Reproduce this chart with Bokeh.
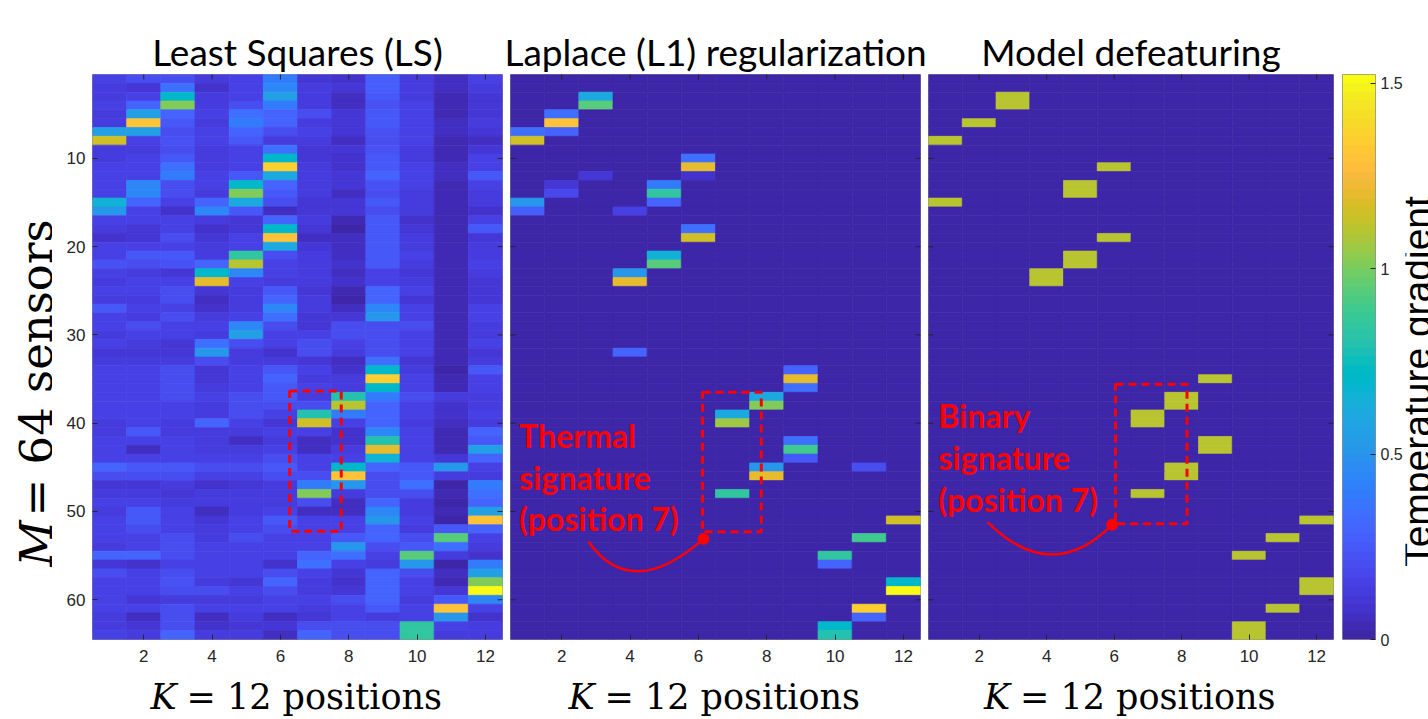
import numpy as np
from bokeh.plotting import figure
from bokeh.models import (Range1d, LinearColorMapper, FixedTicker, Label, ColumnDataSource,
                          CustomJSTickFormatter)
from bokeh.layouts import row, column
from bokeh.embed import file_html
from bokeh.resources import INLINE
from bokeh.transform import transform
from bokeh.core.properties import value

# ---------------- data ----------------
positions = list(range(1, 13))      # K = 12 positions (columns)
sensors = list(range(1, 65))        # M = 64 sensors (rows)
x_ticks = [2, 4, 6, 8, 10, 12]
y_ticks = [10, 20, 30, 40, 50, 60]
cbar_ticks = [0, 0.5, 1, 1.5]
cbar_max = 1.523

titles = ["Least Squares (LS)", "Laplace (L1) regularization", "Model defeaturing"]
xlabel_var, xlabel_rest = "K", "= 12 positions"
ylabel_var, ylabel_rest = "M", "= 64 sensors"
cbar_label = "Temperature gradient"
notes_l1 = ["Thermal", "signature", "(position 7)"]
notes_md = ["Binary", "signature", "(position 7)"]

# Least squares estimate, rows = sensors 1..64, columns = positions 1..12
ls_grid = [
    [.15, .20, .20, .12, .15, .40, .10, .08, .28, .12, .05, .15],
    [.12, .10, .35, .08, .15, .45, .12, .10, .28, .12, .05, .12],
    [.12, .15, .70, .12, .15, .55, .12, .06, .25, .12, .04, .10],
    [.15, .30, 1.0, .12, .20, .40, .12, .06, .22, .15, .04, .10],
    [.12, .55, .30, .15, .35, .30, .20, .10, .25, .15, .04, .10],
    [.12, 1.30, .25, .12, .40, .30, .12, .10, .25, .15, .05, .12],
    [.55, .55, .20, .15, .30, .20, .15, .10, .22, .15, .05, .10],
    [1.15, .15, .22, .15, .25, .12, .12, .06, .20, .15, .04, .05],
    [.13, .12, .20, .12, .15, .35, .10, .10, .22, .12, .04, .10],
    [.13, .15, .25, .12, .15, .70, .10, .08, .25, .12, .04, .15],
    [.15, .15, .35, .12, .15, 1.35, .12, .08, .25, .15, .05, .15],
    [.15, .15, .40, .15, .25, .60, .12, .10, .30, .15, .05, .25],
    [.15, .45, .20, .15, .70, .30, .12, .10, .22, .15, .04, .15],
    [.15, .45, .20, .12, 1.0, .25, .12, .06, .20, .12, .04, .12],
    [.65, .30, .15, .30, .60, .20, .10, .10, .25, .12, .04, .12],
    [.50, .15, .08, .45, .25, .05, .10, .10, .20, .12, .04, .08],
    [.15, .15, .15, .12, .10, .30, .12, .03, .25, .08, .04, .15],
    [.12, .10, .15, .08, .10, .70, .10, .02, .25, .10, .04, .25],
    [.08, .10, .20, .10, .15, 1.30, .06, .05, .25, .12, .04, .10],
    [.15, .15, .15, .12, .15, .60, .10, .05, .25, .12, .04, .12],
    [.15, .25, .25, .12, .85, .20, .12, .05, .25, .15, .04, .12],
    [.22, .20, .22, .30, 1.10, .15, .12, .08, .25, .12, .04, .15],
    [.15, .12, .10, .70, .45, .15, .12, .06, .15, .10, .04, .12],
    [.12, .15, .15, 1.20, .15, .12, .12, .08, .15, .12, .04, .10],
    [.15, .15, .20, .10, .12, .25, .10, .03, .30, .15, .04, .10],
    [.12, .12, .20, .06, .12, .30, .12, .02, .30, .10, .04, .10],
    [.25, .15, .15, .08, .12, .45, .12, .06, .45, .15, .04, .15],
    [.15, .12, .20, .12, .15, .35, .10, .10, .50, .15, .04, .15],
    [.15, .20, .15, .15, .45, .20, .10, .20, .20, .20, .04, .12],
    [.12, .15, .15, .12, .55, .15, .15, .20, .20, .15, .04, .12],
    [.15, .12, .10, .35, .20, .15, .20, .15, .20, .15, .04, .15],
    [.10, .10, .10, .50, .12, .08, .20, .12, .20, .15, .04, .10],
    [.12, .12, .12, .20, .12, .12, .10, .05, .35, .10, .03, .12],
    [.15, .15, .20, .10, .15, .25, .15, .08, .70, .12, .02, .25],
    [.15, .15, .20, .10, .15, .30, .12, .12, 1.35, .15, .03, .15],
    [.15, .15, .20, .12, .15, .25, .15, .12, .70, .15, .03, .15],
    [.15, .15, .20, .15, .20, .25, .12, .80, .40, .20, .12, .12],
    [.15, .15, .15, .12, .20, .20, .20, 1.10, .30, .15, .08, .12],
    [.15, .15, .15, .12, .20, .15, .80, .40, .30, .15, .08, .15],
    [.12, .15, .12, .30, .15, .10, 1.15, .15, .30, .12, .05, .12],
    [.12, .25, .12, .12, .12, .15, .15, .08, .45, .15, .04, .30],
    [.15, .15, .15, .12, .06, .12, .06, .08, .80, .15, .04, .25],
    [.15, .06, .15, .12, .12, .15, .06, .12, 1.20, .15, .04, .55],
    [.15, .15, .15, .15, .15, .20, .15, .15, .65, .15, .10, .30],
    [.30, .25, .25, .20, .20, .25, .15, .70, .30, .25, .50, .15],
    [.20, .20, .20, .15, .15, .20, .20, 1.30, .20, .25, .12, .12],
    [.10, .10, .12, .08, .10, .12, .40, .50, .20, .35, .02, .40],
    [.12, .12, .10, .12, .12, .12, 1.0, .12, .20, .20, .03, .35],
    [.15, .15, .12, .12, .12, .12, .20, .06, .30, .12, .02, .30],
    [.12, .25, .15, .05, .12, .15, .06, .06, .45, .12, .03, .55],
    [.15, .25, .15, .10, .15, .25, .15, .15, .50, .15, .02, 1.30],
    [.15, .20, .15, .12, .15, .20, .15, .15, .30, .12, .25, .30],
    [.15, .15, .20, .12, .20, .15, .15, .25, .30, .20, .95, .15],
    [.12, .15, .20, .15, .15, .15, .15, .50, .20, .25, .35, .12],
    [.30, .30, .20, .15, .15, .15, .30, .35, .15, .95, .12, .08],
    [.10, .08, .15, .15, .15, .08, .35, .15, .12, .50, .02, .40],
    [.20, .15, .20, .15, .15, .20, .15, .10, .30, .20, .06, .55],
    [.15, .15, .22, .12, .10, .30, .12, .08, .30, .15, .04, 1.0],
    [.15, .15, .20, .20, .15, .20, .12, .10, .30, .15, .10, 1.52],
    [.15, .10, .12, .12, .12, .15, .15, .20, .30, .12, .25, .45],
    [.15, .15, .20, .15, .15, .15, .12, .15, .25, .15, 1.30, .15],
    [.12, .06, .20, .05, .12, .06, .10, .15, .12, .15, .50, .08],
    [.12, .10, .20, .08, .10, .10, .20, .20, .20, .85, .15, .12],
    [.15, .12, .30, .12, .12, .06, .30, .20, .20, .85, .12, .12],
]

# Laplace (L1) regularization: non-zero cells (sensor, position, value); all others 0
l1_sensor = [3, 4, 5, 6, 7, 7, 8, 10, 11, 12, 12, 13, 14, 13, 14, 15, 15, 16, 16, 18, 19,
             21, 22, 23, 24, 32, 34, 35, 36, 37, 38, 39, 40, 42, 43, 44, 45, 45, 46, 48,
             51, 53, 55, 56, 58, 59, 61, 62, 63, 64]
l1_position = [3, 3, 2, 2, 2, 1, 1, 6, 6, 6, 3, 2, 2, 5, 5, 5, 1, 1, 4, 6, 6,
               5, 5, 4, 4, 4, 9, 9, 9, 8, 8, 7, 7, 9, 9, 9, 11, 8, 8, 7,
               12, 11, 10, 10, 12, 12, 11, 11, 10, 10]
l1_value = [.60, .95, .35, 1.30, .30, .35, 1.15, .35, 1.20, .08, .10, .10, .18, .40, .85, .30, .50, .28, .15, .35, 1.15,
            .65, .95, .50, 1.20, .30, .30, 1.20, .35, .60, 1.0, .60, 1.05, .35, .90, .25, .20, .50, 1.20, .85,
            1.15, .90, .85, .30, .70, 1.50, 1.35, .30, .70, .80]

# Model defeaturing: binary signature cells (sensor, position), value 1.1; all others 0
mdf_sensor = [8, 15, 6, 3, 4, 23, 24, 13, 14, 21, 22, 11, 19, 39, 40, 48, 37, 38, 45, 46,
              35, 42, 43, 55, 63, 64, 53, 61, 51, 58, 59]
mdf_position = [1, 1, 2, 3, 3, 4, 4, 5, 5, 5, 5, 6, 6, 7, 7, 7, 8, 8, 8, 8,
                9, 9, 9, 10, 10, 10, 11, 11, 12, 12, 12]
mdf_level = 1.1

# annotation geometry (data coordinates: position, sensor)
box_ls = [6.27, 7.78, 36.35, 52.25]       # left, right, top, bottom
box_l1 = [6.12, 7.84, 36.5, 52.3]
box_md = [6.04, 8.16, 35.6, 51.4]
arc_l1 = [2.78, 53.4, 4.03, 60.3, 6.15, 53.1]   # x0, y0, cx, cy, x1, y1
arc_md = [2.25, 51.2, 4.15, 58.4, 5.94, 51.5]

# ---------------- colours ----------------
PARULA_RGB = [
    (0.2422, 0.1504, 0.6603), (0.2504, 0.1650, 0.7076), (0.2578, 0.1818, 0.7511), (0.2647, 0.1978, 0.7952),
    (0.2706, 0.2147, 0.8364), (0.2751, 0.2342, 0.8710), (0.2783, 0.2559, 0.8991), (0.2803, 0.2782, 0.9221),
    (0.2813, 0.3006, 0.9414), (0.2810, 0.3228, 0.9579), (0.2795, 0.3447, 0.9717), (0.2760, 0.3667, 0.9829),
    (0.2699, 0.3892, 0.9906), (0.2602, 0.4123, 0.9952), (0.2440, 0.4358, 0.9988), (0.2206, 0.4603, 0.9973),
    (0.1963, 0.4847, 0.9892), (0.1834, 0.5074, 0.9798), (0.1786, 0.5289, 0.9682), (0.1764, 0.5499, 0.9520),
    (0.1687, 0.5703, 0.9359), (0.1540, 0.5902, 0.9218), (0.1460, 0.6091, 0.9079), (0.1380, 0.6276, 0.8973),
    (0.1248, 0.6459, 0.8883), (0.1113, 0.6635, 0.8763), (0.0952, 0.6798, 0.8598), (0.0689, 0.6948, 0.8394),
    (0.0297, 0.7082, 0.8163), (0.0036, 0.7203, 0.7917), (0.0067, 0.7312, 0.7660), (0.0433, 0.7411, 0.7394),
    (0.0964, 0.7500, 0.7120), (0.1408, 0.7584, 0.6842), (0.1717, 0.7670, 0.6554), (0.1938, 0.7758, 0.6251),
    (0.2161, 0.7843, 0.5923), (0.2470, 0.7918, 0.5567), (0.2906, 0.7973, 0.5188), (0.3406, 0.8008, 0.4789),
    (0.3909, 0.8029, 0.4354), (0.4456, 0.8024, 0.3909), (0.5044, 0.7993, 0.3480), (0.5616, 0.7942, 0.3045),
    (0.6174, 0.7876, 0.2612), (0.6720, 0.7793, 0.2227), (0.7242, 0.7698, 0.1910), (0.7738, 0.7598, 0.1646),
    (0.8203, 0.7498, 0.1535), (0.8634, 0.7406, 0.1596), (0.9035, 0.7330, 0.1774), (0.9393, 0.7288, 0.2100),
    (0.9728, 0.7298, 0.2394), (0.9956, 0.7434, 0.2371), (0.9970, 0.7659, 0.2199), (0.9952, 0.7861, 0.2028),
    (0.9892, 0.8068, 0.1860), (0.9786, 0.8283, 0.1752), (0.9676, 0.8513, 0.1649), (0.9610, 0.8753, 0.1537),
    (0.9597, 0.8995, 0.1415), (0.9606, 0.9241, 0.1272), (0.9636, 0.9490, 0.1064), (0.9769, 0.9839, 0.0805),
]
PARULA = ["#%02x%02x%02x" % tuple(int(round(c * 255)) for c in rgb) for rgb in PARULA_RGB]
mapper = LinearColorMapper(palette=PARULA, low=0, high=cbar_max)

TICK_FONT = "Liberation Sans"
TITLE_FONT = "Lato"
MATH_FONT = "DejaVu Serif"
RED = "#ff0000"
AX_COL = "#262626"
BOX_COL = "#8f8f8f"

PAGE_W = 1428
TITLE_H = 72      # strip above the panels
FRAME_H = 565
TOP_B = 2
BOTTOM_B = 40
MID_H = TOP_B + FRAME_H + BOTTOM_B   # 607
XLAB_H = 40       # strip below the panels
TOTAL_H = TITLE_H + MID_H + XLAB_H   # 719
FRAME_TOP = TITLE_H + TOP_B          # page y of frame top (74)
FRAME_BOT = FRAME_TOP + FRAME_H      # page y of frame bottom (639)

YL_W = 52
P1 = (40, 410, 4)
P2 = (4, 410, 4)
P3 = (4, 405, 3)
CB = (6, 33, 28)
LAB_W = PAGE_W - YL_W - sum(P1) - sum(P2) - sum(P3) - sum(CB)   # 25

c1 = YL_W + P1[0] + P1[1] / 2
c2 = YL_W + sum(P1) + P2[0] + P2[1] / 2
c3 = YL_W + sum(P1) + sum(P2) + P3[0] + P3[1] / 2
centres = [c1, c2, c3]
TICK_PX = 5


def strip_fig(w, h):
    p = figure(width=w, height=h, x_range=Range1d(0, w), y_range=Range1d(0, h), min_border=0,
               toolbar_location=None, output_backend="svg", x_axis_location=None, y_axis_location=None)
    p.outline_line_color = None
    p.grid.visible = False
    return p


def side_fig(w):
    # same vertical frame as the panels; y data = page pixels counted from the bottom of the page
    p = figure(frame_width=w, frame_height=FRAME_H, min_border_left=0, min_border_right=0,
               min_border_top=TOP_B, min_border_bottom=BOTTOM_B,
               x_range=Range1d(0, w), y_range=Range1d(TOTAL_H - FRAME_BOT, TOTAL_H - FRAME_TOP),
               toolbar_location=None, output_backend="svg", x_axis_location=None, y_axis_location=None)
    p.outline_line_color = None
    p.grid.visible = False
    return p


def make_panel(borders, show_y):
    left_border, frame_w, right_border = borders
    p = figure(frame_width=frame_w, frame_height=FRAME_H,
               min_border_left=left_border, min_border_right=right_border,
               min_border_top=TOP_B, min_border_bottom=BOTTOM_B,
               x_range=Range1d(0.5, 12.5), y_range=Range1d(64.5, 0.5),
               toolbar_location=None, output_backend="svg",
               x_axis_location="below", y_axis_location="left" if show_y else None)
    p.outline_line_color = BOX_COL
    p.outline_line_width = 1
    p.grid.visible = False
    p.xaxis.ticker = FixedTicker(ticks=x_ticks)
    p.xaxis.major_label_standoff = 10
    if show_y:
        p.yaxis.ticker = FixedTicker(ticks=y_ticks)
        p.yaxis.major_label_standoff = 7
    for ax in p.axis:
        ax.axis_line_color = None
        ax.major_tick_line_color = AX_COL
        ax.major_tick_in = TICK_PX
        ax.major_tick_out = 0
        ax.minor_tick_line_color = None
        ax.major_label_text_font = TICK_FONT
        ax.major_label_text_font_size = "17px"
        ax.major_label_text_color = AX_COL
    # inward ticks on the remaining sides of the box
    dy = TICK_PX * 64 / FRAME_H
    dx = TICK_PX * 12 / frame_w
    p.segment(x0=x_ticks, x1=x_ticks, y0=[0.5] * len(x_ticks), y1=[0.5 + dy] * len(x_ticks),
              line_color=AX_COL, line_width=1, level="overlay")
    p.segment(x0=[12.5] * len(y_ticks), x1=[12.5 - dx] * len(y_ticks), y0=y_ticks, y1=y_ticks,
              line_color=AX_COL, line_width=1, level="overlay")
    if not show_y:
        p.segment(x0=[0.5] * len(y_ticks), x1=[0.5 + dx] * len(y_ticks), y0=y_ticks, y1=y_ticks,
                  line_color=AX_COL, line_width=1, level="overlay")
    return p


def draw_grid(p, grid):
    xs, ys, vs = [], [], []
    for r, s in enumerate(sensors):
        for c, k in enumerate(positions):
            xs.append(k)
            ys.append(s)
            vs.append(grid[r][c])
    src = ColumnDataSource(dict(x=xs, y=ys, v=vs))
    p.rect("x", "y", width=1, height=1, source=src,
           fill_color=transform("v", mapper), line_color=transform("v", mapper), line_width=0.7)


def add_box(p, box):
    p.quad(left=[box[0]], right=[box[1]], top=[box[2]], bottom=[box[3]], fill_color=None,
           line_color=RED, line_width=3, line_dash="8 5")


def add_note(p, lines, x, ys):
    for t, yy in zip(lines, ys):
        p.add_layout(Label(x=x, y=yy, text=t, text_align="left", text_baseline="alphabetic",
                           text_font=TITLE_FONT, text_font_style="bold", text_font_size="32px",
                           text_color=RED))


def add_arc(p, a):
    p.quadratic(x0=[a[0]], y0=[a[1]], cx=[a[2]], cy=[a[3]], x1=[a[4]], y1=[a[5]],
                line_color=RED, line_width=2.5)
    p.scatter(x=[a[4]], y=[a[5]], size=11, color=RED)


# ---------------- title strip ----------------
tstrip = strip_fig(PAGE_W, TITLE_H)
tstrip.text(x=centres, y=[TITLE_H - 51] * 3, text=titles, text_align="center", text_baseline="alphabetic",
            text_font=value(TITLE_FONT), text_font_size="37px", text_color="black")

# ---------------- x label strip ----------------
xstrip = strip_fig(PAGE_W, XLAB_H)
xstrip.text(x=[c - 147 for c in centres], y=[XLAB_H - 17] * 3, text=[xlabel_var] * 3, text_align="left",
            text_baseline="alphabetic", text_font=value(MATH_FONT), text_font_style="italic",
            text_font_size="35px", text_color="black")
xstrip.text(x=[c - 111 for c in centres], y=[XLAB_H - 17] * 3, text=[xlabel_rest] * 3, text_align="left",
            text_baseline="alphabetic", text_font=value(MATH_FONT), text_font_size="35px", text_color="black")

# ---------------- y label ----------------
yl = side_fig(YL_W)
yl.text(x=[36], y=[TOTAL_H - 566], text=[ylabel_var], angle=np.pi / 2, text_align="left",
        text_baseline="alphabetic", text_font=value(MATH_FONT), text_font_style="italic",
        text_font_size="45px", text_color="black")
yl.text(x=[36], y=[TOTAL_H - 516], text=[ylabel_rest], angle=np.pi / 2, text_align="left",
        text_baseline="alphabetic", text_font=value(MATH_FONT), text_font_size="45px", text_color="black")

# ---------------- panel 1: least squares ----------------
p1 = make_panel(P1, True)
draw_grid(p1, ls_grid)
add_box(p1, box_ls)

# ---------------- panel 2: L1 ----------------
l1_grid = [[0.0] * 12 for _ in sensors]
for s, k, v in zip(l1_sensor, l1_position, l1_value):
    l1_grid[s - 1][k - 1] = v
p2 = make_panel(P2, False)
draw_grid(p2, l1_grid)
add_box(p2, box_l1)
add_arc(p2, arc_l1)
add_note(p2, notes_l1, 0.75, [41.4, 46.1, 50.8])

# ---------------- panel 3: model defeaturing ----------------
md_grid = [[0.0] * 12 for _ in sensors]
for s, k in zip(mdf_sensor, mdf_position):
    md_grid[s - 1][k - 1] = mdf_level
p3 = make_panel(P3, False)
draw_grid(p3, md_grid)
add_box(p3, box_md)
add_arc(p3, arc_md)
add_note(p3, notes_md, 0.79, [39.1, 43.9, 48.6])

# ---------------- colour bar ----------------
pc = figure(frame_width=CB[1], frame_height=FRAME_H, min_border_left=CB[0], min_border_right=CB[2],
            min_border_top=TOP_B, min_border_bottom=BOTTOM_B,
            x_range=Range1d(0, 1), y_range=Range1d(0, cbar_max),
            toolbar_location=None, output_backend="svg", x_axis_location=None, y_axis_location="right")
pc.outline_line_color = BOX_COL
pc.grid.visible = False
ramp = np.linspace(0, cbar_max, 256).reshape(256, 1)
pc.image(image=[ramp], x=0, y=0, dw=1, dh=cbar_max, color_mapper=mapper)
ax = pc.yaxis[0]
ax.ticker = FixedTicker(ticks=cbar_ticks)
ax.formatter = CustomJSTickFormatter(code="return tick.toString()")
ax.axis_line_color = None
ax.major_tick_line_color = AX_COL
ax.major_tick_in = TICK_PX
ax.major_tick_out = 0
ax.minor_tick_line_color = None
ax.major_label_standoff = 5
ax.major_label_text_font = TICK_FONT
ax.major_label_text_font_size = "16px"
ax.major_label_text_color = AX_COL

# colour bar label (clipped by the right edge of the page, as in the original)
lab = side_fig(LAB_W)
lab.text(x=[12], y=[TOTAL_H - 381], text=[cbar_label], angle=np.pi / 2, text_align="center",
         text_baseline="alphabetic", text_font=value(TICK_FONT), text_font_size="39px", text_color="black")

middle = row(yl, p1, p2, p3, pc, lab)
layout = column(tstrip, middle, xstrip)
open("out.html", "w").write(file_html(layout, INLINE))
